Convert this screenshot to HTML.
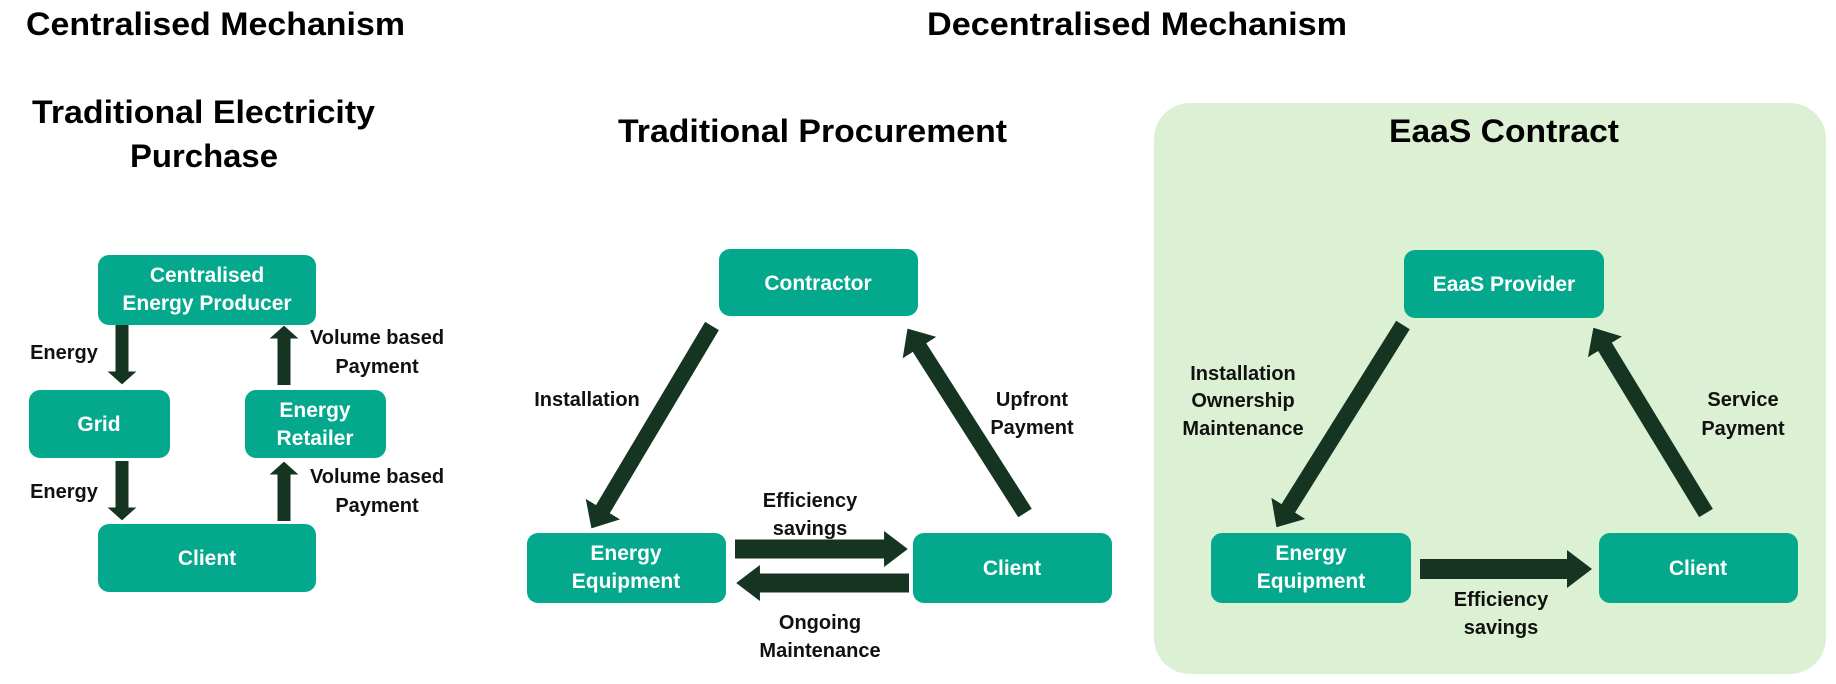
<!DOCTYPE html>
<html><head><meta charset="utf-8"><style>
html,body{margin:0;padding:0;background:#fff;}
svg{display:block;}
text{font-family:"Liberation Sans",sans-serif;font-weight:bold;}
.t{font-size:32px;fill:#000;}
.b{font-size:21px;fill:#fff;}
.l{font-size:20px;fill:#111;}
</style></head><body>
<svg width="1836" height="684" viewBox="0 0 1836 684" xmlns="http://www.w3.org/2000/svg">
<defs>
<marker id="mA" markerUnits="strokeWidth" viewBox="0 -1.12 1 2.24" markerWidth="1" markerHeight="2.24" refX="0.05" refY="0" orient="auto"><path d="M0,-1.12 L1,0 L0,1.12 z" fill="#153522"/></marker>
<marker id="mB" markerUnits="strokeWidth" viewBox="0 -1.25 1.4 2.5" markerWidth="1.4" markerHeight="2.5" refX="0.05" refY="0" orient="auto"><path d="M0,-1.25 L1.4,0 L0,1.25 z" fill="#153522"/></marker>
<marker id="mC" markerUnits="strokeWidth" viewBox="0 -0.95 1.25 1.9" markerWidth="1.25" markerHeight="1.9" refX="0.05" refY="0" orient="auto"><path d="M0,-0.95 L1.25,0 L0,0.95 z" fill="#153522"/></marker>
</defs>

<rect x="1154" y="103" width="672" height="571" rx="36" fill="#dcf0d3"/>

<text class="t" x="26" y="35" textLength="379" lengthAdjust="spacingAndGlyphs">Centralised Mechanism</text>
<text class="t" x="927" y="35" textLength="420" lengthAdjust="spacingAndGlyphs">Decentralised Mechanism</text>
<text class="t" x="32" y="123" textLength="343" lengthAdjust="spacingAndGlyphs">Traditional Electricity</text>
<text class="t" x="130" y="167" textLength="148" lengthAdjust="spacingAndGlyphs">Purchase</text>
<text class="t" x="618" y="142" textLength="389" lengthAdjust="spacingAndGlyphs">Traditional Procurement</text>
<text class="t" x="1389" y="142" textLength="230" lengthAdjust="spacingAndGlyphs">EaaS Contract</text>

<g fill="#04a98d">
<rect x="98" y="255" width="218" height="70" rx="11"/>
<rect x="29" y="390" width="141" height="68" rx="11"/>
<rect x="245" y="390" width="141" height="68" rx="11"/>
<rect x="98" y="524" width="218" height="68" rx="11"/>
<rect x="719" y="249" width="199" height="67" rx="11"/>
<rect x="527" y="533" width="199" height="70" rx="11"/>
<rect x="913" y="533" width="199" height="70" rx="11"/>
<rect x="1404" y="250" width="200" height="68" rx="11"/>
<rect x="1211" y="533" width="200" height="70" rx="11"/>
<rect x="1599" y="533" width="199" height="70" rx="11"/>
</g>

<g text-anchor="middle" class="b">
<text class="b" x="207" y="282">Centralised</text>
<text class="b" x="207" y="310">Energy Producer</text>
<text class="b" x="99" y="431">Grid</text>
<text class="b" x="315" y="417">Energy</text>
<text class="b" x="315" y="445">Retailer</text>
<text class="b" x="207" y="565">Client</text>
<text class="b" x="818" y="290">Contractor</text>
<text class="b" x="626" y="560">Energy</text>
<text class="b" x="626" y="588">Equipment</text>
<text class="b" x="1012" y="575">Client</text>
<text class="b" x="1504" y="291">EaaS Provider</text>
<text class="b" x="1311" y="560">Energy</text>
<text class="b" x="1311" y="588">Equipment</text>
<text class="b" x="1698" y="575">Client</text>
</g>

<g stroke="#153522" fill="none">
<line x1="122" y1="325" x2="122" y2="372" stroke-width="13" marker-end="url(#mA)"/>
<line x1="122" y1="461" x2="122" y2="508" stroke-width="13" marker-end="url(#mA)"/>
<line x1="284" y1="385" x2="284" y2="338" stroke-width="13" marker-end="url(#mA)"/>
<line x1="284" y1="521" x2="284" y2="474" stroke-width="13" marker-end="url(#mA)"/>
<line x1="712" y1="326" x2="602.5" y2="509.8" stroke-width="16" marker-end="url(#mB)"/>
<line x1="1025" y1="513" x2="919.1" y2="346.9" stroke-width="16" marker-end="url(#mB)"/>
<line x1="735" y1="549" x2="885" y2="549" stroke-width="19" marker-end="url(#mC)"/>
<line x1="909" y1="583" x2="759" y2="583" stroke-width="19" marker-end="url(#mC)"/>
<line x1="1403" y1="325" x2="1287.9" y2="509" stroke-width="16" marker-end="url(#mB)"/>
<line x1="1706" y1="513" x2="1604.6" y2="346.2" stroke-width="16" marker-end="url(#mB)"/>
<line x1="1420" y1="569" x2="1568" y2="569" stroke-width="20" marker-end="url(#mC)"/>
</g>

<g text-anchor="middle">
<text class="l" x="64" y="359">Energy</text>
<text class="l" x="64" y="498">Energy</text>
<text class="l" x="377" y="344">Volume based</text>
<text class="l" x="377" y="373">Payment</text>
<text class="l" x="377" y="483">Volume based</text>
<text class="l" x="377" y="512">Payment</text>
<text class="l" x="587" y="406">Installation</text>
<text class="l" x="1032" y="406">Upfront</text>
<text class="l" x="1032" y="434">Payment</text>
<text class="l" x="810" y="507">Efficiency</text>
<text class="l" x="810" y="535">savings</text>
<text class="l" x="820" y="629">Ongoing</text>
<text class="l" x="820" y="657">Maintenance</text>
<text class="l" x="1243" y="380">Installation</text>
<text class="l" x="1243" y="407">Ownership</text>
<text class="l" x="1243" y="435">Maintenance</text>
<text class="l" x="1743" y="406">Service</text>
<text class="l" x="1743" y="435">Payment</text>
<text class="l" x="1501" y="606">Efficiency</text>
<text class="l" x="1501" y="634">savings</text>
</g>
</svg>
</body></html>
